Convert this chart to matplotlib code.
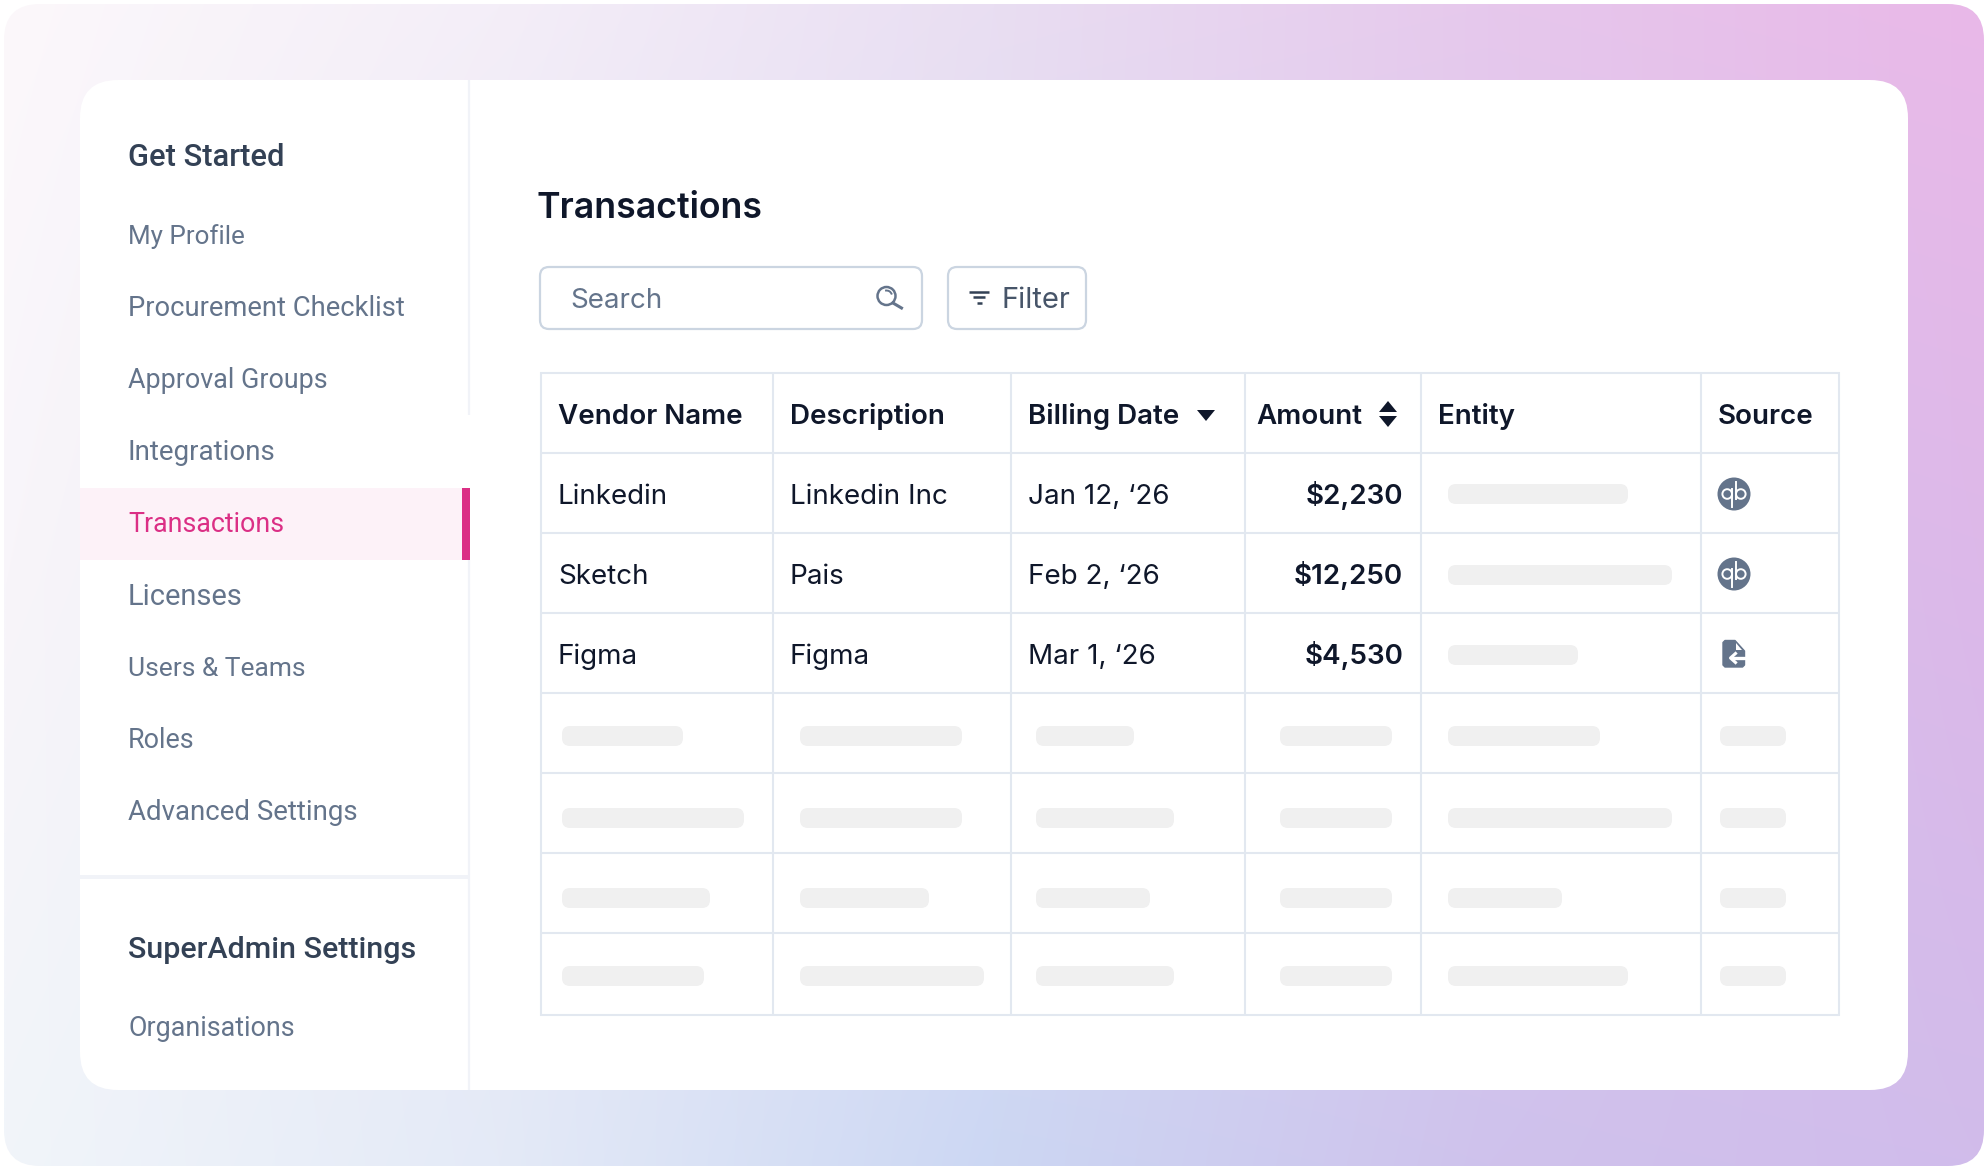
import numpy as np
import matplotlib
matplotlib.use("Agg")
import matplotlib.pyplot as plt
from matplotlib.colors import to_rgb
from matplotlib.patches import FancyBboxPatch, Rectangle, Circle, Arc, Polygon

W, H = 1988, 1170

# sidebar
nav_items = ["My Profile", "Procurement Checklist", "Approval Groups", "Integrations",
             "Transactions", "Licenses", "Users & Teams", "Roles", "Advanced Settings"]
nav_base = [244, 316, 388, 460, 532, 605, 676, 748, 820]
nav_sizes = [18.7, 19.75, 19.4, 20.0, 19.3, 20.9, 19.0, 19.4, 19.9]
active_item = "Transactions"

# table
col_edges = [541, 773, 1011, 1245, 1421, 1701, 1839]
row_edges = [373, 453, 533, 613, 693, 773, 853, 933, 1015]
headers = ["Vendor Name", "Description", "Billing Date", "Amount", "Entity", "Source"]
header_x = [558, 790, 1028, 1256, 1438, 1718]
vendors = ["Linkedin", "Sketch", "Figma"]
descriptions = ["Linkedin Inc", "Pais", "Figma"]
billing_dates = ["Jan 12, ‘26", "Feb 2, ‘26", "Mar 1, ‘26"]
amounts = ["$2,230", "$12,250", "$4,530"]
row_base = [504, 584, 664]

# loading placeholders, (start, end) per column
entity_bars = [(1448, 1628), (1448, 1672), (1448, 1578)]
entity_yc = [494, 575, 655]
bars_row4 = [(562, 683), (800, 962), (1036, 1134), (1280, 1392), (1448, 1600), (1720, 1786)]
bars_row5 = [(562, 744), (800, 962), (1036, 1174), (1280, 1392), (1448, 1672), (1720, 1786)]
bars_row6 = [(562, 710), (800, 929), (1036, 1150), (1280, 1392), (1448, 1562), (1720, 1786)]
bars_row7 = [(562, 704), (800, 984), (1036, 1174), (1280, 1392), (1448, 1628), (1720, 1786)]
bars_yc = [736, 818, 898, 976]

# background gradient stops (top row, middle row, bottom row)
grad_top = ["#fcf8fb", "#f4eef8", "#e9def2", "#e6c8ec", "#e9b8e8"]
grad_mid = ["#f8f5fa", "#e9e8f5", "#dcdcf3", "#d8c8ee", "#dcb8e9"]
grad_bot = ["#f1f5fa", "#e4eaf7", "#ccd7f3", "#cfc2ec", "#d1bceb"]

INK = "#0f172a"
SLATE = "#64748b"
SIDE_HEAD = "#334155"
GRID = "#e2e8f0"
SKEL = "#f0f0f0"
PINK = "#db2f85"

fig = plt.figure(figsize=(W / 100, H / 100), dpi=100, facecolor="white")
ax = fig.add_axes([0, 0, 1, 1])
ax.set_xlim(0, W)
ax.set_ylim(H, 0)
ax.axis("off")


def rbox(x0, y0, x1, y1, r, fc="none", ec="none", lw=0, z=2):
    p = FancyBboxPatch((x0 + r, y0 + r), x1 - x0 - 2 * r, y1 - y0 - 2 * r,
                       boxstyle=f"round,pad={r},rounding_size={r}", fc=fc, ec=ec, lw=lw, zorder=z)
    ax.add_patch(p)
    return p


# gradient panel
stops = np.array([[to_rgb(c) for c in row] for row in (grad_top, grad_mid, grad_bot)])
xs = np.linspace(0, 4, 500)
ys = np.linspace(0, 2, 300)
grad = np.zeros((300, 500, 3))
for k in range(3):
    top = np.array([np.interp(xs, range(5), stops[r, :, k]) for r in range(3)])
    for i in range(500):
        grad[:, i, k] = np.interp(ys, range(3), top[:, i])
im = ax.imshow(grad, extent=(4, 1984, 1166, 4), aspect="auto", interpolation="bilinear", zorder=1)
ax.set_xlim(0, W)
ax.set_ylim(H, 0)
clip = rbox(4, 4, 1984, 1166, 36, fc="none")
im.set_clip_path(clip)

# white card
rbox(80, 80, 1908, 1090, 38, fc="white", z=2)

# sidebar
ax.plot([469, 469], [80, 415], color="#f1f3f8", lw=1.6, zorder=3, solid_capstyle="butt")
ax.plot([469, 469], [560, 1090], color="#f1f3f8", lw=1.6, zorder=3, solid_capstyle="butt")
ax.add_patch(Rectangle((80, 875), 389, 4, fc="#f1f3f8", ec="none", zorder=3))
ax.add_patch(Rectangle((80, 488), 390, 72, fc="#fdf2f8", ec="none", zorder=3))
ax.add_patch(Rectangle((462, 488), 8, 72, fc=PINK, ec="none", zorder=4))

SIDE_FONT = "Roboto"
ax.text(128, 166, "Get Started", family=SIDE_FONT, fontsize=22.2, weight="medium", color=SIDE_HEAD, zorder=5)
ax.text(128, 958, "SuperAdmin Settings", family=SIDE_FONT, fontsize=21.9, weight="medium", color=SIDE_HEAD, zorder=5)
for name, yb, fs in zip(nav_items, nav_base, nav_sizes):
    c = PINK if name == active_item else SLATE
    ax.text(128, yb, name, family=SIDE_FONT, fontsize=fs, color=c, zorder=5)
ax.text(128, 1036, "Organisations", family=SIDE_FONT, fontsize=19.4, color=SLATE, zorder=5)

# title and toolbar
ax.text(537, 218, "Transactions", family="Inter", fontsize=25.7, weight="semibold", color=INK, zorder=5)
rbox(540, 267, 922, 329, 9, fc="white", ec="#cbd5e1", lw=1.6, z=3)
rbox(948, 267, 1086, 329, 9, fc="white", ec="#cbd5e1", lw=1.6, z=3)
ax.text(570, 308, "Search", family="Inter", fontsize=20, color=SLATE, zorder=5)
ax.text(1002, 308, "Filter", family="Inter", fontsize=21, color="#475569", zorder=5)

# search icon
ax.add_patch(Circle((886.5, 296), 9, fc="none", ec=SLATE, lw=1.8, zorder=5))
ax.add_patch(Arc((886.5, 296), 11, 11, theta1=255, theta2=345, ec=SLATE, lw=1.4, zorder=5))
ax.plot([893, 901.5], [303, 308], color=SLATE, lw=2.2, zorder=5)

# filter icon
for half, yy in zip([10, 6, 2.5], [292, 297, 303]):
    ax.plot([979 - half, 979 + half], [yy, yy], color="#334155", lw=1.8, zorder=5, solid_capstyle="butt")

# table grid
for x in col_edges:
    ax.plot([x, x], [row_edges[0] - 1, row_edges[-1] + 1], color=GRID, lw=1.5, zorder=3, solid_capstyle="butt")
for y in row_edges:
    ax.plot([col_edges[0] - 1, col_edges[-1] + 1], [y, y], color=GRID, lw=1.5, zorder=3, solid_capstyle="butt")

# header
for label, x in zip(headers, header_x):
    ax.text(x, 424, label, family="Inter", fontsize=20.0, weight="semibold", color=INK, zorder=5)
ax.add_patch(Polygon([[1197, 410], [1215, 410], [1206, 421]], fc=INK, ec="none", zorder=5))
ax.add_patch(Polygon([[1379, 412], [1397, 412], [1388, 401]], fc=INK, ec="none", zorder=5))
ax.add_patch(Polygon([[1379, 416], [1397, 416], [1388, 427]], fc=INK, ec="none", zorder=5))

# filled rows
for i, yb in enumerate(row_base):
    ax.text(558, yb, vendors[i], family="Inter", fontsize=20.0, color=INK, zorder=5)
    ax.text(790, yb, descriptions[i], family="Inter", fontsize=20.0, color=INK, zorder=5)
    ax.text(1028, yb, billing_dates[i], family="Inter", fontsize=20.0, color=INK, zorder=5)
    ax.text(1403, yb, amounts[i], family="Inter", fontsize=20.0, weight="semibold", color=INK, ha="right", zorder=5)
    a, b = entity_bars[i]
    rbox(a, entity_yc[i] - 10, b, entity_yc[i] + 10, 8, fc=SKEL, z=4)


def qb_icon(cx, cy):
    ax.add_patch(Circle((cx, cy), 16.5, fc=SLATE, ec="none", zorder=5))
    ax.add_patch(Circle((cx - 6.8, cy), 4.8, fc="none", ec="white", lw=1.4, zorder=6))
    ax.add_patch(Circle((cx + 6.8, cy), 4.8, fc="none", ec="white", lw=1.4, zorder=6))
    ax.plot([cx - 1.6, cx - 1.6], [cy - 5, cy + 12.5], color="white", lw=1.4, zorder=6)
    ax.plot([cx + 1.6, cx + 1.6], [cy - 12.5, cy + 5], color="white", lw=1.4, zorder=6)


qb_icon(1734, 494)
qb_icon(1734, 574)
# imported file icon
ax.add_patch(Polygon([[1725, 640.5], [1735, 640.5], [1744.5, 651], [1744.5, 665], [1742.5, 667], [1725, 667], [1723, 665], [1723, 642.5]],
                     fc=SLATE, ec=SLATE, lw=1, joinstyle="round", zorder=5))
ax.add_patch(Polygon([[1736, 643], [1736, 650], [1742, 650]], fc="white", ec="none", zorder=6))
ax.plot([1731, 1746], [658, 658], color="white", lw=2.4, zorder=6, solid_capstyle="butt")
ax.plot([1735.5, 1730.5, 1735.5], [653.5, 658, 662.5], color="white", lw=2.2, zorder=6)

# placeholder rows
for yc, row_bars in zip(bars_yc, [bars_row4, bars_row5, bars_row6, bars_row7]):
    for a, b in row_bars:
        rbox(a, yc - 10, b, yc + 10, 8, fc=SKEL, z=4)

fig.savefig("out.png", dpi=100, facecolor="white")
